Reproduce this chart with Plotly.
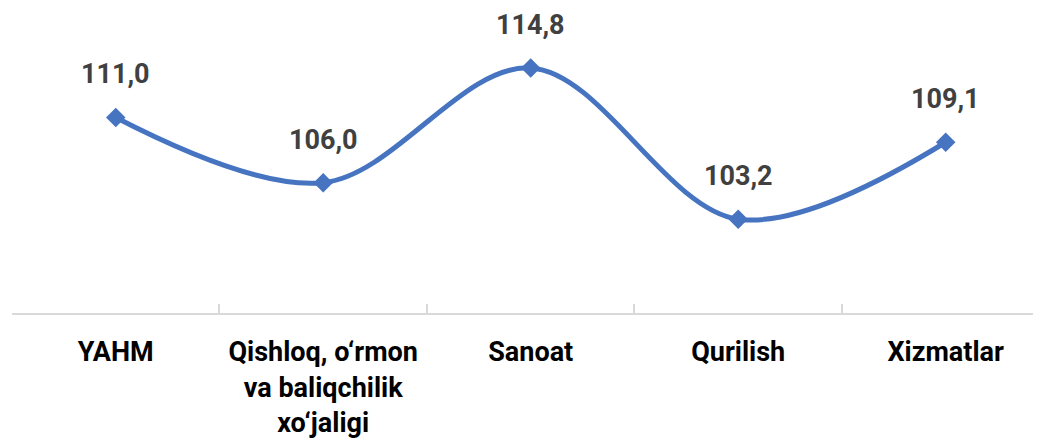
import plotly.graph_objects as go

categories = ["YAHM", "Qishloq, o‘rmon<br>va baliqchilik<br>xo‘jaligi", "Sanoat", "Qurilish", "Xizmatlar"]
values = [111.0, 106.0, 114.8, 103.2, 109.1]
value_labels = ["111,0", "106,0", "114,8", "103,2", "109,1"]

FONT = "Roboto"
LINE_COLOR = "#4674C0"

fig = go.Figure()
fig.add_trace(go.Scatter(
    x=categories, y=values, mode="lines+markers",
    line=dict(color=LINE_COLOR, width=5, shape="spline", smoothing=1.0),
    marker=dict(symbol="diamond", size=15, color=LINE_COLOR),
    hoverinfo="skip", showlegend=False,
))
for c, v, t in zip(categories, values, value_labels):
    fig.add_annotation(x=c, y=v, text=t, showarrow=False, yshift=43,
                       font=dict(family=FONT, size=27, color="#404040", weight="bold"))

fig.update_layout(
    width=1041, height=445,
    margin=dict(l=4, r=0, t=0, b=140, autoexpand=False),
    paper_bgcolor="white", plot_bgcolor="white",
    xaxis=dict(
        type="category", range=[-0.5, 4.498], automargin=False,
        showline=True, linecolor="#d9d9d9", linewidth=2,
        ticks="inside", tickson="boundaries", ticklen=9, tickcolor="#d9d9d9", tickwidth=2,
        showgrid=False, zeroline=False,
        tickfont=dict(family=FONT, size=27, color="#000000", weight="bold"),
        ticklabelstandoff=14,
    ),
    yaxis=dict(range=[96, 119.4], visible=False, showgrid=False, zeroline=False, automargin=False),
)

fig.write_html("out.html")
